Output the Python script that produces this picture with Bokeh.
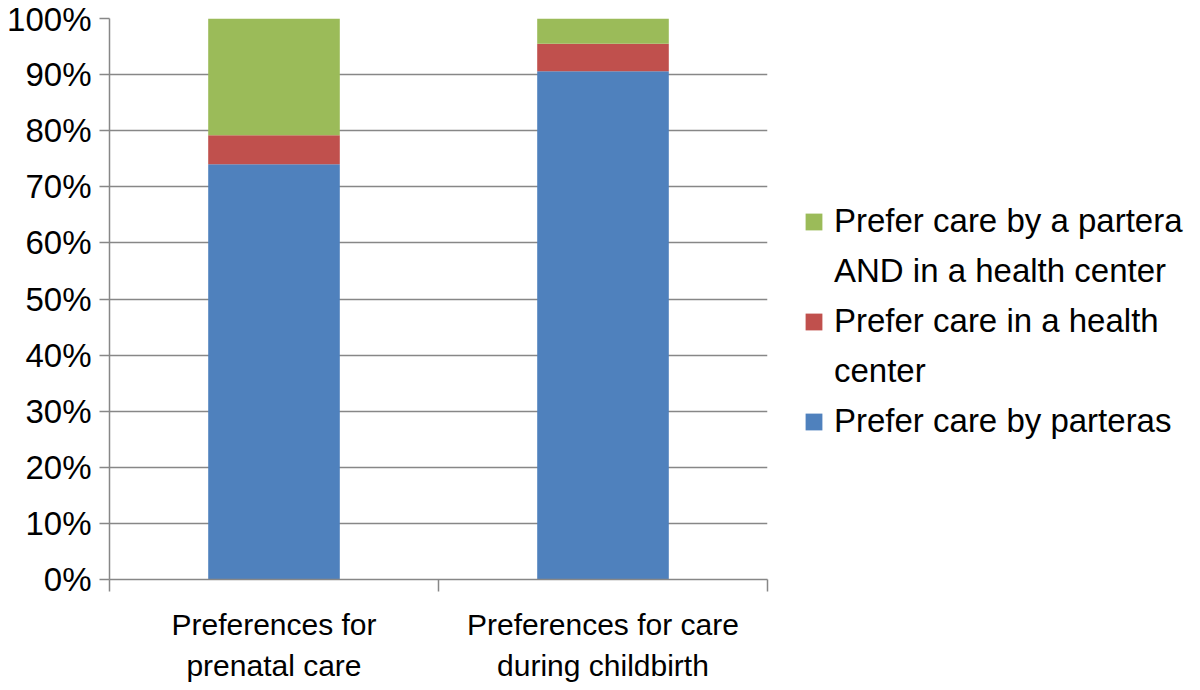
from bokeh.plotting import figure
from bokeh.models import (ColumnDataSource, Range1d, FixedTicker, NumeralTickFormatter,
                          Legend, LegendItem)
from bokeh.embed import file_html
from bokeh.resources import INLINE

categories = ["Preferences for\nprenatal care", "Preferences for care\nduring childbirth"]
cat_x = [0.5, 1.5]
series_names = ["Prefer care by parteras", "Prefer care in a health\ncenter",
                "Prefer care by a partera\nAND in a health center"]
parteras = [0.740, 0.906]
health_center = [0.052, 0.049]
both = [0.208, 0.045]
colors = ["#4F81BD", "#C0504D", "#9BBB59"]
y_ticks = [0.0, 0.1, 0.2, 0.3, 0.4, 0.5, 0.6, 0.7, 0.8, 0.9, 1.0]

src = ColumnDataSource(dict(x=cat_x, parteras=parteras, health=health_center, both=both))

p = figure(frame_width=658, frame_height=561, output_backend="svg", toolbar_location=None,
           x_range=Range1d(0, 2), y_range=Range1d(0, 1),
           min_border_left=109, min_border_right=417, min_border_top=18, min_border_bottom=101)
p.outline_line_color = None
p.background_fill_color = "white"

rs = p.vbar_stack(["parteras", "health", "both"], x="x", width=0.4, source=src,
                  color=colors, line_color=None)

# invisible placeholder glyph used for the continuation lines of wrapped legend labels
blank = p.vbar(x=[], top=[], width=0.4, fill_alpha=0, line_alpha=0)

grey = "#878787"
font = "Liberation Sans"

# y axis
p.yaxis.ticker = FixedTicker(ticks=y_ticks)
p.yaxis.formatter = NumeralTickFormatter(format="0%")
p.yaxis.axis_line_color = grey
p.yaxis.axis_line_width = 1.5
p.yaxis.major_tick_line_color = grey
p.yaxis.major_tick_line_width = 1.5
p.yaxis.major_tick_out = 10
p.yaxis.major_tick_in = 0
p.yaxis.minor_tick_line_color = None
p.yaxis.major_label_standoff = 8
p.yaxis.major_label_text_font = font
p.yaxis.major_label_text_font_size = "33px"
p.yaxis.major_label_text_color = "black"

# x axis
p.xaxis.ticker = FixedTicker(ticks=cat_x, minor_ticks=[0, 1, 2])
p.xaxis.major_label_overrides = {cat_x[i]: categories[i] for i in range(len(cat_x))}
p.xaxis.axis_line_color = grey
p.xaxis.axis_line_width = 1.5
p.xaxis.major_tick_line_color = None
p.xaxis.major_tick_out = 0
p.xaxis.major_tick_in = 0
p.xaxis.minor_tick_line_color = grey
p.xaxis.minor_tick_line_width = 1.5
p.xaxis.minor_tick_out = 12
p.xaxis.minor_tick_in = 0
p.xaxis.major_label_standoff = 16
p.xaxis.major_label_text_font = font
p.xaxis.major_label_text_font_size = "30px"
p.xaxis.major_label_text_color = "black"
p.xaxis.major_label_text_line_height = 1.25

p.xgrid.grid_line_color = None
p.ygrid.ticker = FixedTicker(ticks=y_ticks)
p.ygrid.grid_line_color = grey
p.ygrid.grid_line_width = 1.5

items = []
for i in [2, 1, 0]:
    lines = series_names[i].split("\n")
    items.append(LegendItem(label=lines[0], renderers=[rs[i]]))
    for extra in lines[1:]:
        items.append(LegendItem(label=extra, renderers=[blank]))

legend = Legend(items=items, location=(36, 139), orientation="vertical",
                glyph_width=21, glyph_height=21, label_standoff=10, spacing=12,
                padding=0, margin=0, border_line_color=None, background_fill_alpha=0,
                label_text_font=font, label_text_font_size="33px",
                label_text_color="black")
p.add_layout(legend, "right")

open("out.html", "w").write(file_html(p, INLINE))
